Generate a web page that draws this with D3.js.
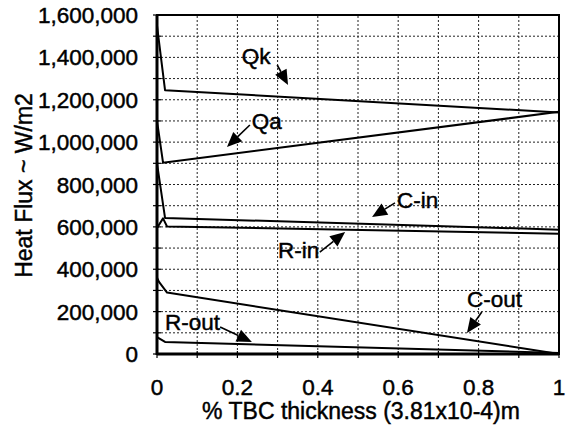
<!DOCTYPE html>
<html><head><meta charset="utf-8">
<script src="https://cdn.jsdelivr.net/npm/d3@7"></script>
<style>body{margin:0;background:#fff}svg{display:block}text{font-family:"Liberation Sans",Arial,sans-serif;fill:#000;stroke:#000;stroke-width:0.45px}</style>
</head><body><svg id="c" width="566" height="426"></svg>
<script>
const seriesNames = ["Qk","Qa","C-in","R-in","C-out","R-out"];
const qkX = [0, 0.02, 1],            qkY = [1550000, 1245000, 1140000];
const qaX = [0, 0.015, 1],           qaY = [1100000, 903000, 1143000];
const cinX = [0, 0.02, 1],           cinY = [900000, 642000, 587000];
const rinX = [0, 0.015, 0.025, 1],   rinY = [595000, 640000, 602000, 568000];
const coutX = [0, 0.005, 0.025, 1],  coutY = [360000, 340000, 290000, 0];
const routX = [0, 0.02, 1],          routY = [80000, 57000, 5000];
const xTicks = [0, 0.2, 0.4, 0.6, 0.8, 1];
const xTickLabels = ["0","0.2","0.4","0.6","0.8","1"];
const yTicks = [0,200000,400000,600000,800000,1000000,1200000,1400000,1600000];
const yTickLabels = ["0","200,000","400,000","600,000","800,000","1,000,000","1,200,000","1,400,000","1,600,000"];
const xLabel = "% TBC thickness (3.81x10-4)m";
const yLabel = "Heat Flux ~ W/m2";
// annotation: label anchor, arrow start, arrow tip (data coords)
const annLabels = ["Qk","Qa","C-in","R-in","C-out","R-out"];
const annLabelPos = [[0.211,1368000],[0.236,1062000],[0.597,689000],[0.301,453000],[0.771,222000],[0.020,113000]];
const annFrom = [[0.299,1364000],[0.231,1081000],[0.592,713000],[0.405,481000],[0.808,198000],[0.157,127000]];
const annTo = [[0.326,1270000],[0.174,977000],[0.535,647000],[0.468,576000],[0.771,99000],[0.236,57000]];

const W=566,H=426, m={l:157,r:7,t:15,b:72};
const svg=d3.select("#c");
const x=d3.scaleLinear().domain([0,1]).range([m.l,W-m.r]);
const y=d3.scaleLinear().domain([0,1600000]).range([H-m.b,m.t]);

// grid
const gx=d3.range(1,10).map(i=>i/10), gy=d3.range(1,16).map(i=>i*100000);
svg.append("g").selectAll("line").data(gx).join("line")
  .attr("x1",d=>x(d)).attr("x2",d=>x(d)).attr("y1",y(0)).attr("y2",y(1600000))
  .attr("stroke","#222").attr("stroke-width",1).attr("stroke-dasharray","2,2");
svg.append("g").selectAll("line").data(gy).join("line")
  .attr("x1",x(0)).attr("x2",x(1)).attr("y1",d=>y(d)).attr("y2",d=>y(d))
  .attr("stroke","#222").attr("stroke-width",1).attr("stroke-dasharray","2,2");

// minor ticks
svg.append("g").selectAll("line").data(d3.range(0,17).map(i=>i*100000)).join("line")
  .attr("x1",x(0)-4).attr("x2",x(0)+4).attr("y1",d=>y(d)).attr("y2",d=>y(d)).attr("stroke","#000").attr("stroke-width",1.2);
svg.append("g").selectAll("line").data(d3.range(0,11).map(i=>i/10)).join("line")
  .attr("x1",d=>x(d)).attr("x2",d=>x(d)).attr("y1",y(0)-3).attr("y2",y(0)+4).attr("stroke","#000").attr("stroke-width",1.2);

// frame
svg.append("rect").attr("x",x(0)).attr("y",y(1600000)).attr("width",x(1)-x(0)).attr("height",y(0)-y(1600000))
  .attr("fill","none").attr("stroke","#000").attr("stroke-width",2);
svg.append("line").attr("x1",x(0)).attr("x2",x(0)).attr("y1",y(1600000)).attr("y2",y(0)+1).attr("stroke","#000").attr("stroke-width",3);
svg.append("line").attr("x1",x(0)).attr("x2",x(1)).attr("y1",y(0)).attr("y2",y(0)).attr("stroke","#000").attr("stroke-width",3);

// axes labels
svg.append("g").selectAll("text").data(yTicks).join("text")
  .attr("x",x(0)-19).attr("y",d=>y(d)+8).attr("text-anchor","end").attr("font-size",22.5)
  .text((d,i)=>yTickLabels[i]);
svg.append("g").selectAll("text").data(xTicks).join("text")
  .attr("x",d=>x(d)).attr("y",395).attr("text-anchor","middle").attr("font-size",22.5)
  .text((d,i)=>xTickLabels[i]);
svg.append("text").attr("x",(x(0)+x(1))/2+3).attr("y",419).attr("text-anchor","middle").attr("font-size",23).text(xLabel);
svg.append("text").attr("transform",`translate(32,${185.5}) rotate(-90)`).attr("text-anchor","middle").attr("font-size",23).text(yLabel);

// series
const all=[[qkX,qkY],[qaX,qaY],[cinX,cinY],[rinX,rinY],[coutX,coutY],[routX,routY]];
const line=d3.line().x(d=>x(d[0])).y(d=>y(d[1]));
svg.append("g").selectAll("path").data(all).join("path")
  .attr("d",s=>line(s[0].map((v,i)=>[v,s[1][i]])))
  .attr("fill","none").attr("stroke","#000").attr("stroke-width",2).attr("stroke-linejoin","round");

// annotations
const ag=svg.append("g");
annLabels.forEach((t,i)=>{
  ag.append("text").attr("x",x(annLabelPos[i][0])).attr("y",y(annLabelPos[i][1])).attr("font-size",22.5).text(t);
  const x1=x(annFrom[i][0]),y1=y(annFrom[i][1]),x2=x(annTo[i][0]),y2=y(annTo[i][1]);
  const a=Math.atan2(y2-y1,x2-x1), L=15, w=6.5;
  const bx=x2-L*Math.cos(a), by=y2-L*Math.sin(a);
  ag.append("line").attr("x1",x1).attr("y1",y1).attr("x2",bx).attr("y2",by).attr("stroke","#000").attr("stroke-width",1.6);
  ag.append("path").attr("d",`M${x2},${y2}L${bx-w*Math.sin(a)},${by+w*Math.cos(a)}L${bx+w*Math.sin(a)},${by-w*Math.cos(a)}Z`).attr("fill","#000");
});
</script></body></html>
